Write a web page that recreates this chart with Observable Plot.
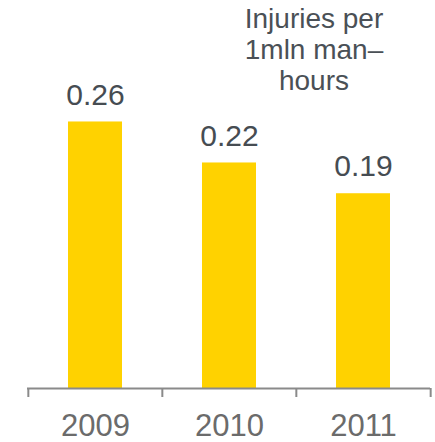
<!DOCTYPE html>
<html>
<head>
<meta charset="utf-8">
<script src="https://cdn.jsdelivr.net/npm/d3@7"></script>
<script src="https://cdn.jsdelivr.net/npm/@observablehq/plot@0.6"></script>
<style>
  html, body { margin: 0; padding: 0; background: #fff; }
  #wrap { position: relative; width: 435px; height: 442px; }
  #title { position: absolute; left: 234px; top: 3px; width: 160px; text-align: center;
           font-family: "Liberation Sans", Arial, sans-serif; font-size: 28px; line-height: 31px;
           color: #4a5056; }
</style>
</head>
<body>
<div id="wrap"><div id="title">Injuries per<br>1mln man–<br>hours</div></div>
<script>
const years = ["2009", "2010", "2011"];
const values = [0.26, 0.22, 0.19];
const labels = ["0.26", "0.22", "0.19"];
const data = years.map((y, i) => ({year: y, value: values[i], label: labels[i]}));

const W = 435, H = 442, mL = 27, mR = 5, mT = 0, mB = 54;
const step = (W - mL - mR) / years.length;
const font = "Liberation Sans, Arial, sans-serif";

const chart = Plot.plot({
  width: W, height: H,
  marginLeft: mL, marginRight: mR, marginTop: mT, marginBottom: mB,
  style: {fontFamily: font, background: "transparent"},
  x: {domain: years, paddingInner: 0.6, paddingOuter: 0.3, label: null},
  y: {domain: [0, 0.3785], axis: null},
  marks: [
    Plot.barY(data, {x: "year", y: "value", fill: "#FFD200"}),
    Plot.text(data, {x: "year", y: "value", text: "label", dy: -27, fontSize: 30, fill: "#464c52"}),
    Plot.ruleY([0], {stroke: "#8a8a8a", strokeWidth: 2}),
    Plot.ruleX(years, {x: d => d, y1: 0, y2: 0, insetBottom: -9, dx: -step / 2, stroke: "#8a8a8a", strokeWidth: 2}),
    Plot.ruleX(years.slice(-1), {x: d => d, y1: 0, y2: 0, insetBottom: -9, dx: step / 2, stroke: "#8a8a8a", strokeWidth: 2}),
    Plot.axisX({tickSize: 0, tickPadding: 25, fontSize: 31, fill: "#6b6b6b", label: null})
  ]
});
document.getElementById("wrap").prepend(chart);
chart.style.position = "absolute";
chart.style.left = "0";
chart.style.top = "0";
</script>
</body>
</html>
